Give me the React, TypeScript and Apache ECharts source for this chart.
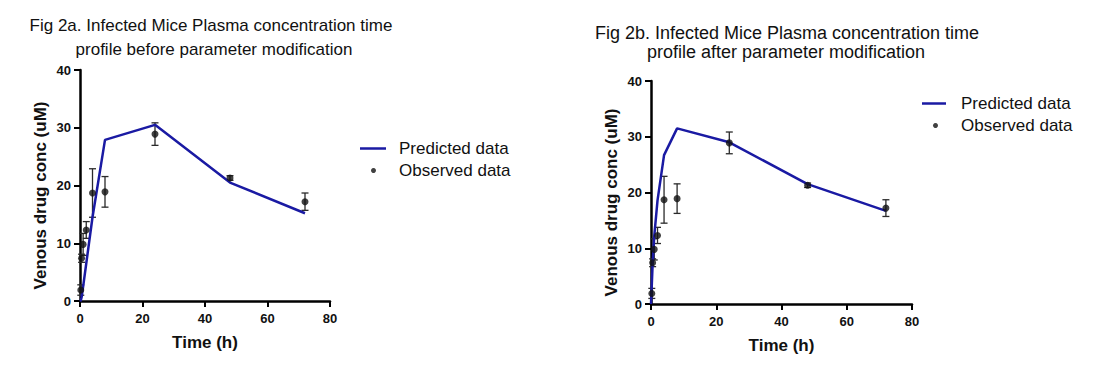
import React, { useEffect, useRef } from "react";
import * as echarts from "echarts";

const obsTime = [0.25, 0.5, 1, 2, 4, 8, 24, 48, 72];
const obsMean = [1.9, 7.4, 9.8, 12.3, 18.7, 18.9, 28.9, 21.3, 17.2];
const obsSD = [0.9, 0.7, 1.9, 1.45, 4.2, 2.65, 1.95, 0.4, 1.5];

const predTime = [0, 0.25, 0.5, 1, 2, 4, 8, 24, 48, 72];
const predBefore = [0, 0.1, 0.6, 2.5, 6.5, 14.5, 27.9, 30.5, 20.5, 15.2];
const predAfter = [0, 3.5, 7.2, 12.2, 18.6, 26.7, 31.5, 29.0, 21.5, 16.7];

const xTicks = [0, 20, 40, 60, 80];
const yTicks = [0, 10, 20, 30, 40];

const titleA = ["Fig 2a. Infected Mice Plasma concentration time", "profile before parameter modification"];
const titleB = ["Fig 2b. Infected Mice Plasma concentration time", "profile after parameter modification"];

const FONT = 'Arial, "Liberation Sans", sans-serif';
const BLUE = "#1a1aa3";

export default function App() {
  const ref = useRef<HTMLDivElement>(null);
  useEffect(() => {
    if (!ref.current) return;
    const chart = echarts.init(ref.current, undefined, { renderer: "svg" });

    const mkX = (gi: number) => ({
      type: "value",
      gridIndex: gi,
      min: xTicks[0],
      max: xTicks[xTicks.length - 1],
      interval: 20,
      name: "Time (h)",
      nameLocation: "middle",
      nameGap: 33,
      nameTextStyle: { fontFamily: FONT, fontSize: 17, fontWeight: "bold", color: "#111" },
      axisLine: { lineStyle: { color: "#000", width: 2.5 } },
      axisTick: { show: true, length: 6, lineStyle: { color: "#000", width: 2 } },
      axisLabel: { fontFamily: FONT, fontSize: 13, fontWeight: "bold", color: "#111", margin: 11 },
      splitLine: { show: false },
    });
    const mkY = (gi: number) => ({
      type: "value",
      gridIndex: gi,
      min: yTicks[0],
      max: yTicks[yTicks.length - 1],
      interval: 10,
      name: "Venous drug conc (uM)",
      nameLocation: "middle",
      nameGap: 31,
      nameTextStyle: { fontFamily: FONT, fontSize: 17, fontWeight: "bold", color: "#111", padding: [0, 20, 0, 0] },
      axisLine: { show: true, lineStyle: { color: "#000", width: 2.5 } },
      axisTick: { show: true, length: 6, lineStyle: { color: "#000", width: 2 } },
      axisLabel: { fontFamily: FONT, fontSize: 13, fontWeight: "bold", color: "#111", margin: 9 },
      splitLine: { show: false },
    });

    const errData = obsTime.map((t, i) => [t, obsMean[i] - obsSD[i], obsMean[i] + obsSD[i]]);
    const obsData = obsTime.map((t, i) => [t, obsMean[i]]);

    const errSeries = (gi: number) => ({
      type: "custom",
      name: "err" + gi,
      xAxisIndex: gi,
      yAxisIndex: gi,
      z: 2,
      data: errData,
      renderItem: (params: any, api: any) => {
        const lo = api.coord([api.value(0), api.value(1)]);
        const hi = api.coord([api.value(0), api.value(2)]);
        const w = 3.5;
        const style = { stroke: "#2a2a2a", lineWidth: 1.3 };
        return {
          type: "group",
          children: [
            { type: "line", shape: { x1: lo[0], y1: lo[1], x2: hi[0], y2: hi[1] }, style },
            { type: "line", shape: { x1: lo[0] - w, y1: lo[1], x2: lo[0] + w, y2: lo[1] }, style },
            { type: "line", shape: { x1: hi[0] - w, y1: hi[1], x2: hi[0] + w, y2: hi[1] }, style },
          ],
        };
      },
    });

    const lineSeries = (gi: number, vals: number[]) => ({
      type: "line",
      name: "Predicted data",
      xAxisIndex: gi,
      yAxisIndex: gi,
      z: 3,
      symbol: "none",
      showSymbol: false,
      data: predTime.map((t, i) => [t, vals[i]]),
      lineStyle: { color: BLUE, width: 2.5 },
      itemStyle: { color: BLUE },
    });

    const scatterSeries = (gi: number) => ({
      type: "scatter",
      name: "Observed data",
      xAxisIndex: gi,
      yAxisIndex: gi,
      z: 4,
      symbol: "circle",
      symbolSize: 7,
      data: obsData,
      itemStyle: { color: "#111" },
    });

    const mkLegend = (left: number, top: number, name: string, w: number, h: number, icon: string, pad: number) => ({
      left,
      top,
      orient: "vertical",
      itemWidth: w,
      itemHeight: h,
      selectedMode: false,
      padding: 0,
      data: [{ name, icon }],
      textStyle: { fontFamily: FONT, fontSize: 17, color: "#111", padding: [0, 0, 0, pad] },
    });

    const titleText = (x: number, y: number, text: string, size: number) => ({
      type: "text",
      x,
      y,
      style: {
        text,
        fontFamily: FONT,
        fontSize: size,
        fill: "#111",
        align: "center",
        verticalAlign: "middle",
      },
    });

    chart.setOption({
      animation: false,
      backgroundColor: "#fff",
      grid: [
        { left: 80, top: 70, width: 250, height: 231 },
        { left: 651, top: 81, width: 261, height: 223 },
      ],
      xAxis: [mkX(0), mkX(1)],
      yAxis: [mkY(0), mkY(1)],
      legend: [
        mkLegend(360, 140, "Predicted data", 26, 2.5, "rect", 8),
        mkLegend(371, 162, "Observed data", 5, 5, "circle", 18),
        mkLegend(922, 95, "Predicted data", 24, 2.5, "rect", 10),
        mkLegend(933, 117, "Observed data", 5, 5, "circle", 18),
      ],
      graphic: [
        titleText(211, 25, titleA[0], 17),
        titleText(214, 49, titleA[1], 17),
        titleText(787, 33, titleB[0], 18),
        titleText(786, 52, titleB[1], 18),
      ],
      series: [
        errSeries(0),
        lineSeries(0, predBefore),
        scatterSeries(0),
        errSeries(1),
        lineSeries(1, predAfter),
        scatterSeries(1),
      ],
    });
    return () => chart.dispose();
  }, []);
  return <div ref={ref} style={{ position: "fixed", left: 0, top: 0, width: 1101, height: 372 }} />;
}
